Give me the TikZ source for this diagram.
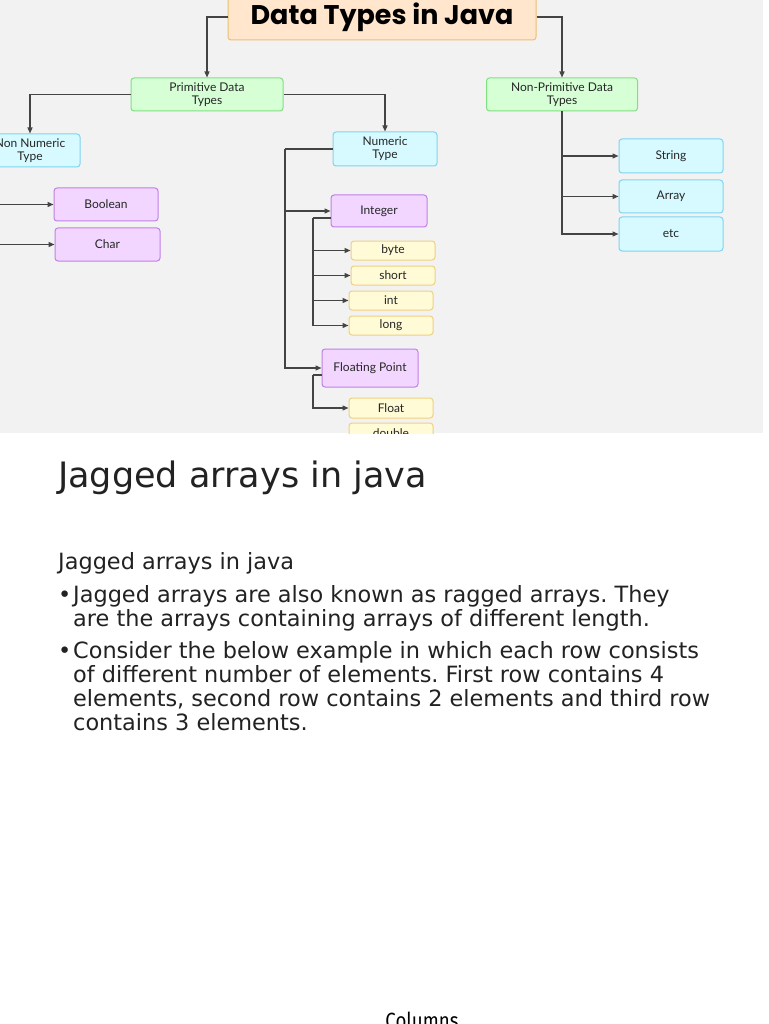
\documentclass[tikz,border=0pt]{standalone}
\usepackage{fontspec}
\setmainfont{DejaVu Sans}
\newfontfamily\chartfont{Lato}
\newfontfamily\headfont{Poppins}
\newfontfamily\footfont{Fira Sans}[FakeStretch=0.85]
\frenchspacing
\definecolor{panelgrey}{RGB}{242,242,242}
\definecolor{linegrey}{RGB}{68,68,68}
\definecolor{peachfill}{RGB}{255,230,204}
\definecolor{peachline}{RGB}{236,192,112}
\definecolor{greenfill}{RGB}{214,255,214}
\definecolor{greenline}{RGB}{128,224,128}
\definecolor{cyanfill}{RGB}{214,250,255}
\definecolor{cyanline}{RGB}{128,212,240}
\definecolor{purplefill}{RGB}{242,214,255}
\definecolor{purpleline}{RGB}{192,128,232}
\definecolor{yellowfill}{RGB}{255,251,214}
\definecolor{yellowline}{RGB}{240,208,128}
\definecolor{bodytext}{RGB}{34,34,34}
\definecolor{logogreen}{RGB}{110,200,150}
\usetikzlibrary{arrows.meta, positioning}

\begin{document}
\begin{tikzpicture}[
      x=1pt, y=-1pt,
      box/.style={rectangle, rounded corners=3pt, line width=1pt, inner sep=0pt,
                  align=center, text=black!85,
                  font=\chartfont\fontsize{12}{13}\selectfont},
      groupbox/.style={box, draw=greenline, fill=greenfill,
                       minimum width=152pt, minimum height=33pt},
      kindbox/.style={box, draw=cyanline, fill=cyanfill,
                      minimum width=104pt, minimum height=34pt},
      classbox/.style={box, draw=purpleline, fill=purplefill,
                       minimum width=104pt, minimum height=33pt},
      leafbox/.style={box, draw=yellowline, fill=yellowfill,
                      minimum width=84pt, minimum height=19pt},
      arr/.style={-{Triangle[length=6pt,width=5pt]}, line width=1.3pt, linegrey},
      link/.style={line width=1.3pt, linegrey},
      body/.style={anchor=base west, inner sep=0pt, align=left, text=bodytext,
                   font=\fontsize{22.4}{24}\selectfont}
    ]
      \useasboundingbox (0,0) rectangle (768,1024);
      \fill[white] (0,0) rectangle (768,1024);
      \fill[panelgrey] (0,0) rectangle (763,433);

      \begin{scope}
      \clip (0,0) rectangle (763,433);
      % Logo fragments at the top edge
      \fill[logogreen] (712,-4) arc[start angle=180, end angle=360, x radius=6, y radius=6];
      \fill[logogreen] (730,-4) arc[start angle=180, end angle=360, x radius=6, y radius=6];

      % Root
      \node[box, draw=peachline, fill=peachfill, minimum width=308pt, minimum height=46pt,
            font=\headfont\bfseries\fontsize{27}{30}\selectfont, text=black] (title) at (382,17) {Data Types in Java};

      % Second level
      \node[groupbox] (prim) at (207,94.5) {Primitive Data\\Types};
      \node[groupbox, minimum width=151pt] (nonprim) at (562,94.5) {Non-Primitive Data\\Types};

      % Primitive side
      \node[kindbox, minimum width=100pt, minimum height=33pt] (nonnum) at (30,150.5) {Non Numeric\\Type};
      \node[kindbox] (numeric) at (385,149) {Numeric\\Type};
      \node[classbox] (boolean) at (106,204.5) {Boolean};
      \node[classbox, minimum width=105pt] (char) at (107.5,244.5) {Char};
      \node[classbox, minimum width=96pt, minimum height=32pt] (integer) at (379,211) {Integer};
      \node[leafbox] (byte) at (393,250.5) {byte};
      \node[leafbox, below=5pt of byte] (short) {short};
      \node[leafbox, below=5pt of short, xshift=-2pt] (int) {int};
      \node[leafbox, below=5pt of int] (long) {long};
      \node[classbox, minimum width=96pt, minimum height=38pt] (floating) at (370,368) {Floating Point};
      \node[leafbox, minimum height=20pt] (float) at (391,408) {Float};
      \node[leafbox, minimum height=20pt, below=4pt of float] (double) {double};

      % Non-primitive side
      \node[kindbox] (string) at (671,156) {String};
      \node[kindbox, minimum height=33pt] (array) at (671,196.5) {Array};
      \node[kindbox] (etc) at (671,234) {etc};

      % Bus points
      \coordinate (nnbus) at (-12,150.5);
      \coordinate (numbus) at (285,149);
      \coordinate (intbus) at (313,218);
      \coordinate (fpbus) at (313,375);

      % Arrows
      \draw[arr] (title.west) -| (prim.north);
      \draw[arr] (title.east) -| (nonprim.north);
      \draw[arr] (prim.west) -| (nonnum.north);
      \draw[arr] (prim.east) -| (numeric.north);
      \draw[link] (nonnum.west) -- (nnbus);
      \draw[arr] (nnbus) |- (boolean.west);
      \draw[arr] (nnbus) |- (char.west);
      \draw[link] (numeric.west) -- (numbus);
      \draw[arr] (numbus) |- (integer.west);
      \draw[arr] (numbus) |- (floating.west);
      \draw[link] ([yshift=-7pt]integer.west) -- (intbus);
      \draw[arr] (intbus) |- (byte.west);
      \draw[arr] (intbus) |- (short.west);
      \draw[arr] (intbus) |- (int.west);
      \draw[arr] (intbus) |- (long.west);
      \draw[link] ([yshift=-7pt]floating.west) -- (fpbus);
      \draw[arr] (fpbus) |- (float.west);
      \draw[arr] (nonprim.south) |- (string.west);
      \draw[arr] (nonprim.south) |- (array.west);
      \draw[arr] (nonprim.south) |- (etc.west);
      \end{scope}

      % Slide text (multi-line nodes sit on their last baseline)
      \node[body, font=\fontsize{35}{40}\selectfont] (heading) at (58,487) {Jagged arrays in java};
      \node[body] (subhead) at (58,569) {Jagged arrays in java};
      \node[body] (dot1) at (58,602) {•};
      \node[body] (item1) at (73,626) {Jagged arrays are also known as ragged arrays. They\\are the arrays containing arrays of different length.};
      \node[body] (dot2) at (58,658) {•};
      \node[body] (item2) at (73,730) {Consider the below example in which each row consists\\of different number of elements. First row contains 4\\elements, second row contains 2 elements and third row\\contains 3 elements.};

      % Next slide peeking in
      \node[anchor=base, inner sep=0pt, text=black,
            font=\footfont\fontsize{22}{24}\selectfont] (columns) at (422,1028) {Columns};
    \end{tikzpicture}
\end{document}
